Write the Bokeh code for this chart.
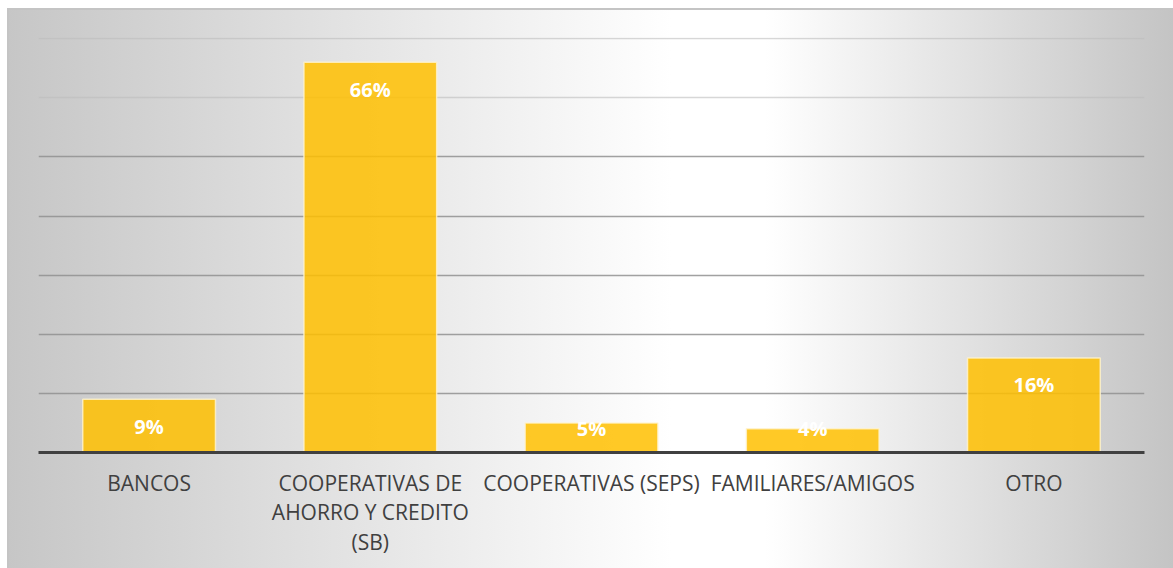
import numpy as np
from bokeh.plotting import figure
from bokeh.models import ColumnDataSource, Range1d, FactorRange, Grid, FixedTicker
from bokeh.core.properties import value
from bokeh.embed import file_html
from bokeh.resources import INLINE

categories = ["BANCOS", "COOPERATIVAS DE\nAHORRO Y CREDITO\n(SB)", "COOPERATIVAS (SEPS)",
              "FAMILIARES/AMIGOS", "OTRO"]
values = [9, 66, 5, 4, 16]
labels = ["9%", "66%", "5%", "4%", "16%"]
grid_major = [10, 20, 30, 40, 50]
grid_faint = [60, 70]

label_y = list(np.maximum(np.array(values, dtype=float), 8.6))

src = ColumnDataSource(dict(cat=categories, val=values, lab=labels, ly=label_y))

p = figure(width=1173, height=568, x_range=FactorRange(*categories, range_padding=0),
           y_range=Range1d(0, 70.2), output_backend="svg", toolbar_location=None,
           min_border_left=38, min_border_right=29, min_border_top=37, min_border_bottom=116)

p.styles = {
    "background-image": ("linear-gradient(#c4c4c4, #c4c4c4), linear-gradient(#c4c4c4, #c4c4c4), "
                         "linear-gradient(to right, #c6c6c6 0%, #ffffff 57%, #ffffff 65%, #c4c4c4 100%), "
                         "linear-gradient(white, white)"),
    "background-position": "7px 8px, 7px 8px, 7px 8px, 0 0",
    "background-size": "100% 2px, 2px 100%, calc(100% - 7px) calc(100% - 8px), 100% 100%",
    "background-repeat": "no-repeat",
}
p.background_fill_alpha = 0
p.border_fill_alpha = 0
p.outline_line_color = None

p.yaxis.visible = False
p.xgrid.visible = False
p.ygrid.visible = False

g1 = Grid(dimension=1, ticker=FixedTicker(ticks=grid_major), grid_line_color="#909090",
          grid_line_alpha=0.85, grid_line_width=1.5)
g2 = Grid(dimension=1, ticker=FixedTicker(ticks=grid_faint), grid_line_color="#bdbdbd",
          grid_line_alpha=0.6, grid_line_width=1.5)
p.add_layout(g1)
p.add_layout(g2)

p.vbar(x="cat", top="val", width=0.6, source=src, fill_color="#FFC000", fill_alpha=0.85,
       line_color="#fff4d0", line_alpha=0.8, line_width=1.5)

p.text(x="cat", y="ly", text="lab", source=src, text_color="white",
       text_font=value("Open Sans"), text_font_style="bold", text_font_size="20px",
       text_align="center", text_baseline="middle", y_offset=27)

xa = p.xaxis[0]
xa.axis_line_color = "#404040"
xa.axis_line_width = 3
xa.major_tick_line_color = None
xa.minor_tick_line_color = None
xa.major_label_text_font = "Open Sans"
xa.major_label_text_font_size = "21px"
xa.major_label_text_color = "#404040"
xa.major_label_text_line_height = 1.055
xa.major_label_standoff = 10

open("out.html", "w").write(file_html(p, INLINE))
